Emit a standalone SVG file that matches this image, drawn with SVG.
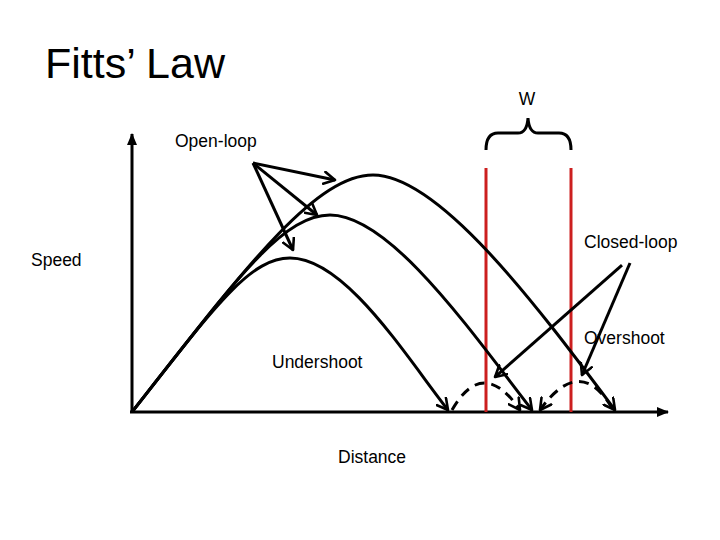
<svg xmlns="http://www.w3.org/2000/svg" width="720" height="540" viewBox="0 0 720 540">
<defs>
<style>
text{font-family:"Liberation Sans",Arial,sans-serif;fill:#000}
.lbl{font-size:17.5px}
.ln{fill:none;stroke:#000;stroke-width:3}
.arr{fill:none;stroke:#000;stroke-width:3;marker-end:url(#open)}
.dash{fill:none;stroke:#000;stroke-width:3;stroke-dasharray:10 7;marker-end:url(#open)}
.red{stroke:#cc1f1f;stroke-width:3}
</style>
<marker id="open" viewBox="0 0 14 14" refX="12" refY="7" markerWidth="14" markerHeight="14" markerUnits="userSpaceOnUse" orient="auto">
<path d="M1,1 L12,7 L1,13" fill="none" stroke="#000" stroke-width="2.6" stroke-linecap="round" stroke-linejoin="round"/>
</marker>
<marker id="tri" viewBox="0 0 12 12" refX="11" refY="6" markerWidth="12" markerHeight="12" markerUnits="userSpaceOnUse" orient="auto">
<path d="M0,1 L12,6 L0,11 Z" fill="#000"/>
</marker>
</defs>
<rect width="720" height="540" fill="#fff"/>
<g id="title"><text x="45" y="78" style="font-size:43px">Fitts’ Law</text></g>
<g id="axes">
<line x1="132" y1="412" x2="132" y2="134" stroke="#000" stroke-width="3" marker-end="url(#tri)"/>
<line x1="130" y1="412" x2="668" y2="412" stroke="#000" stroke-width="3" marker-end="url(#tri)"/>
</g>
<g id="target">
<line class="red" x1="486" y1="168" x2="486" y2="412"/>
<line class="red" x1="571" y1="168" x2="571" y2="412"/>
<path class="ln" d="M486,150 Q486,133 498,133 L518,133 Q527,133 528,118 Q529,133 538,133 L559,133 Q571,133 571,150"/>
</g>
<g id="connectors">
<path class="arr" d="M132,412 C245,268 315,175 373,175 C440,175 540,310 615,410"/>
<path class="arr" d="M132,412 C230,288 280,215 330,215 C390,215 470,330 532,410"/>
<path class="arr" d="M132,412 C215,306 250,258 290,258 C345,258 405,355 448,410"/>
<path class="dash" d="M452,410 Q483,356 520,410"/>
<path class="dash" d="M612,408 Q580,354 540,410"/>
<line class="arr" x1="253" y1="163" x2="335" y2="180"/>
<line class="arr" x1="253" y1="163" x2="317" y2="215"/>
<line class="arr" x1="253" y1="163" x2="293" y2="250"/>
<line class="arr" x1="622" y1="265" x2="495" y2="377"/>
<line class="arr" x1="630" y1="263" x2="582" y2="375"/>
</g>
<g id="labels">
<text class="lbl" x="527" y="105" text-anchor="middle">W</text>
<text class="lbl" x="175" y="147">Open-loop</text>
<text class="lbl" x="584" y="248">Closed-loop</text>
<text class="lbl" x="31" y="266">Speed</text>
<text class="lbl" x="584" y="344">Overshoot</text>
<text class="lbl" x="272" y="368">Undershoot</text>
<text class="lbl" x="338" y="463">Distance</text>
</g>
</svg>
